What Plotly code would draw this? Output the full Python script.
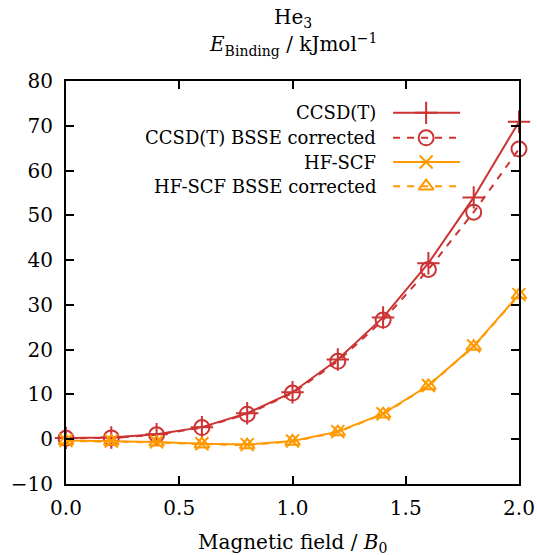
import plotly.graph_objects as go

field = [0.0, 0.2, 0.4, 0.6, 0.8, 1.0, 1.2, 1.4, 1.6, 1.8, 2.0]
ccsdt = [0.3, 0.4, 1.1, 2.7, 5.8, 10.5, 17.8, 27.2, 39.3, 54.0, 70.9]
ccsdt_bsse = [0.2, 0.3, 1.0, 2.6, 5.6, 10.3, 17.4, 26.6, 37.9, 50.7, 64.8]
hf = [-0.3, -0.4, -0.6, -1.0, -1.2, -0.4, 1.7, 5.7, 12.0, 20.8, 32.3]
hf_bsse = [-0.4, -0.5, -0.7, -1.1, -1.3, -0.5, 1.6, 5.6, 11.9, 20.7, 32.2]

labels = ["CCSD(T)", "CCSD(T) BSSE corrected", "HF-SCF", "HF-SCF BSSE corrected"]
RED = "#cc3333"
ORANGE = "#ff9900"
FONT = "DejaVu Serif"

styles = [
    dict(color=RED, dash="solid", symbol="cross-thin", size=16),
    dict(color=RED, dash="7px,7px", symbol="circle-open", size=15),
    dict(color=ORANGE, dash="solid", symbol="x-thin", size=13),
    dict(color=ORANGE, dash="7px,7px", symbol="triangle-up-open", size=13),
]
series = [ccsdt, ccsdt_bsse, hf, hf_bsse]

fig = go.Figure()
for ys, st in zip(series, styles):
    fig.add_trace(go.Scatter(
        x=field, y=ys, mode="lines+markers",
        line=dict(color=st["color"], width=2, dash=st["dash"]),
        marker=dict(symbol=st["symbol"], size=st["size"], color=st["color"],
                    line=dict(color=st["color"], width=2)),
        showlegend=False, cliponaxis=False,
    ))

# custom gnuplot-style key (text left, sample right)
key_rows = [0.921, 0.859, 0.799, 0.739]
for lab, st, yk in zip(labels, styles, key_rows):
    fig.add_trace(go.Scatter(
        x=[0.722, 0.870], y=[yk, yk], mode="lines",
        line=dict(color=st["color"], width=2, dash=st["dash"]),
        xaxis="x2", yaxis="y2", showlegend=False, hoverinfo="skip"))
    fig.add_trace(go.Scatter(
        x=[0.795], y=[yk], mode="markers",
        marker=dict(symbol=st["symbol"], size=st["size"], color=st["color"],
                    line=dict(color=st["color"], width=2)),
        xaxis="x2", yaxis="y2", showlegend=False, hoverinfo="skip"))
    fig.add_annotation(x=0.689, y=yk, xref="paper", yref="paper", text=lab,
                       showarrow=False, xanchor="right", yanchor="middle",
                       font=dict(family=FONT, size=18, color="black"))

axis_common = dict(showgrid=False, zeroline=False, ticks="inside", ticklen=8,
                   tickwidth=1.5, tickcolor="black", showline=True, linecolor="black",
                   linewidth=2, mirror="ticks", automargin=False,
                   tickfont=dict(family=FONT, size=20, color="black"))

fig.update_layout(
    width=537, height=555,
    margin=dict(l=66, r=18, t=81, b=71),
    paper_bgcolor="white", plot_bgcolor="white",
    xaxis=dict(range=[0, 2], tickvals=[0, 0.5, 1.0, 1.5, 2.0],
               ticktext=["0.0", "0.5", "1.0", "1.5", "2.0"],
               ticklabelstandoff=5, **axis_common),
    yaxis=dict(range=[-10, 80], tickvals=list(range(-10, 81, 10)),
               ticktext=["−10"] + [str(v) for v in range(0, 81, 10)],
               ticklabelstandoff=7, **axis_common),
    xaxis2=dict(overlaying="x", range=[0, 1], visible=False, anchor="y2"),
    yaxis2=dict(overlaying="y", range=[0, 1], visible=False, anchor="x2"),
)

fig.add_annotation(x=0.5, y=0.0, xref="paper", yref="paper", yshift=-59,
                   text="Magnetic field / <i>B</i><sub>0</sub>", showarrow=False,
                   yanchor="middle", font=dict(family=FONT, size=20, color="black"))
fig.add_annotation(x=0.5, y=1.0, xref="paper", yref="paper", yshift=63,
                   text="He<sub>3</sub>", showarrow=False, yanchor="middle",
                   font=dict(family=FONT, size=20, color="black"))
fig.add_annotation(x=0.5, y=1.0, xref="paper", yref="paper", yshift=37,
                   text="<i>E</i><sub>Binding</sub> / kJmol<sup>−1</sup>", showarrow=False,
                   yanchor="middle", font=dict(family=FONT, size=20, color="black"))

fig.write_html("out.html")
